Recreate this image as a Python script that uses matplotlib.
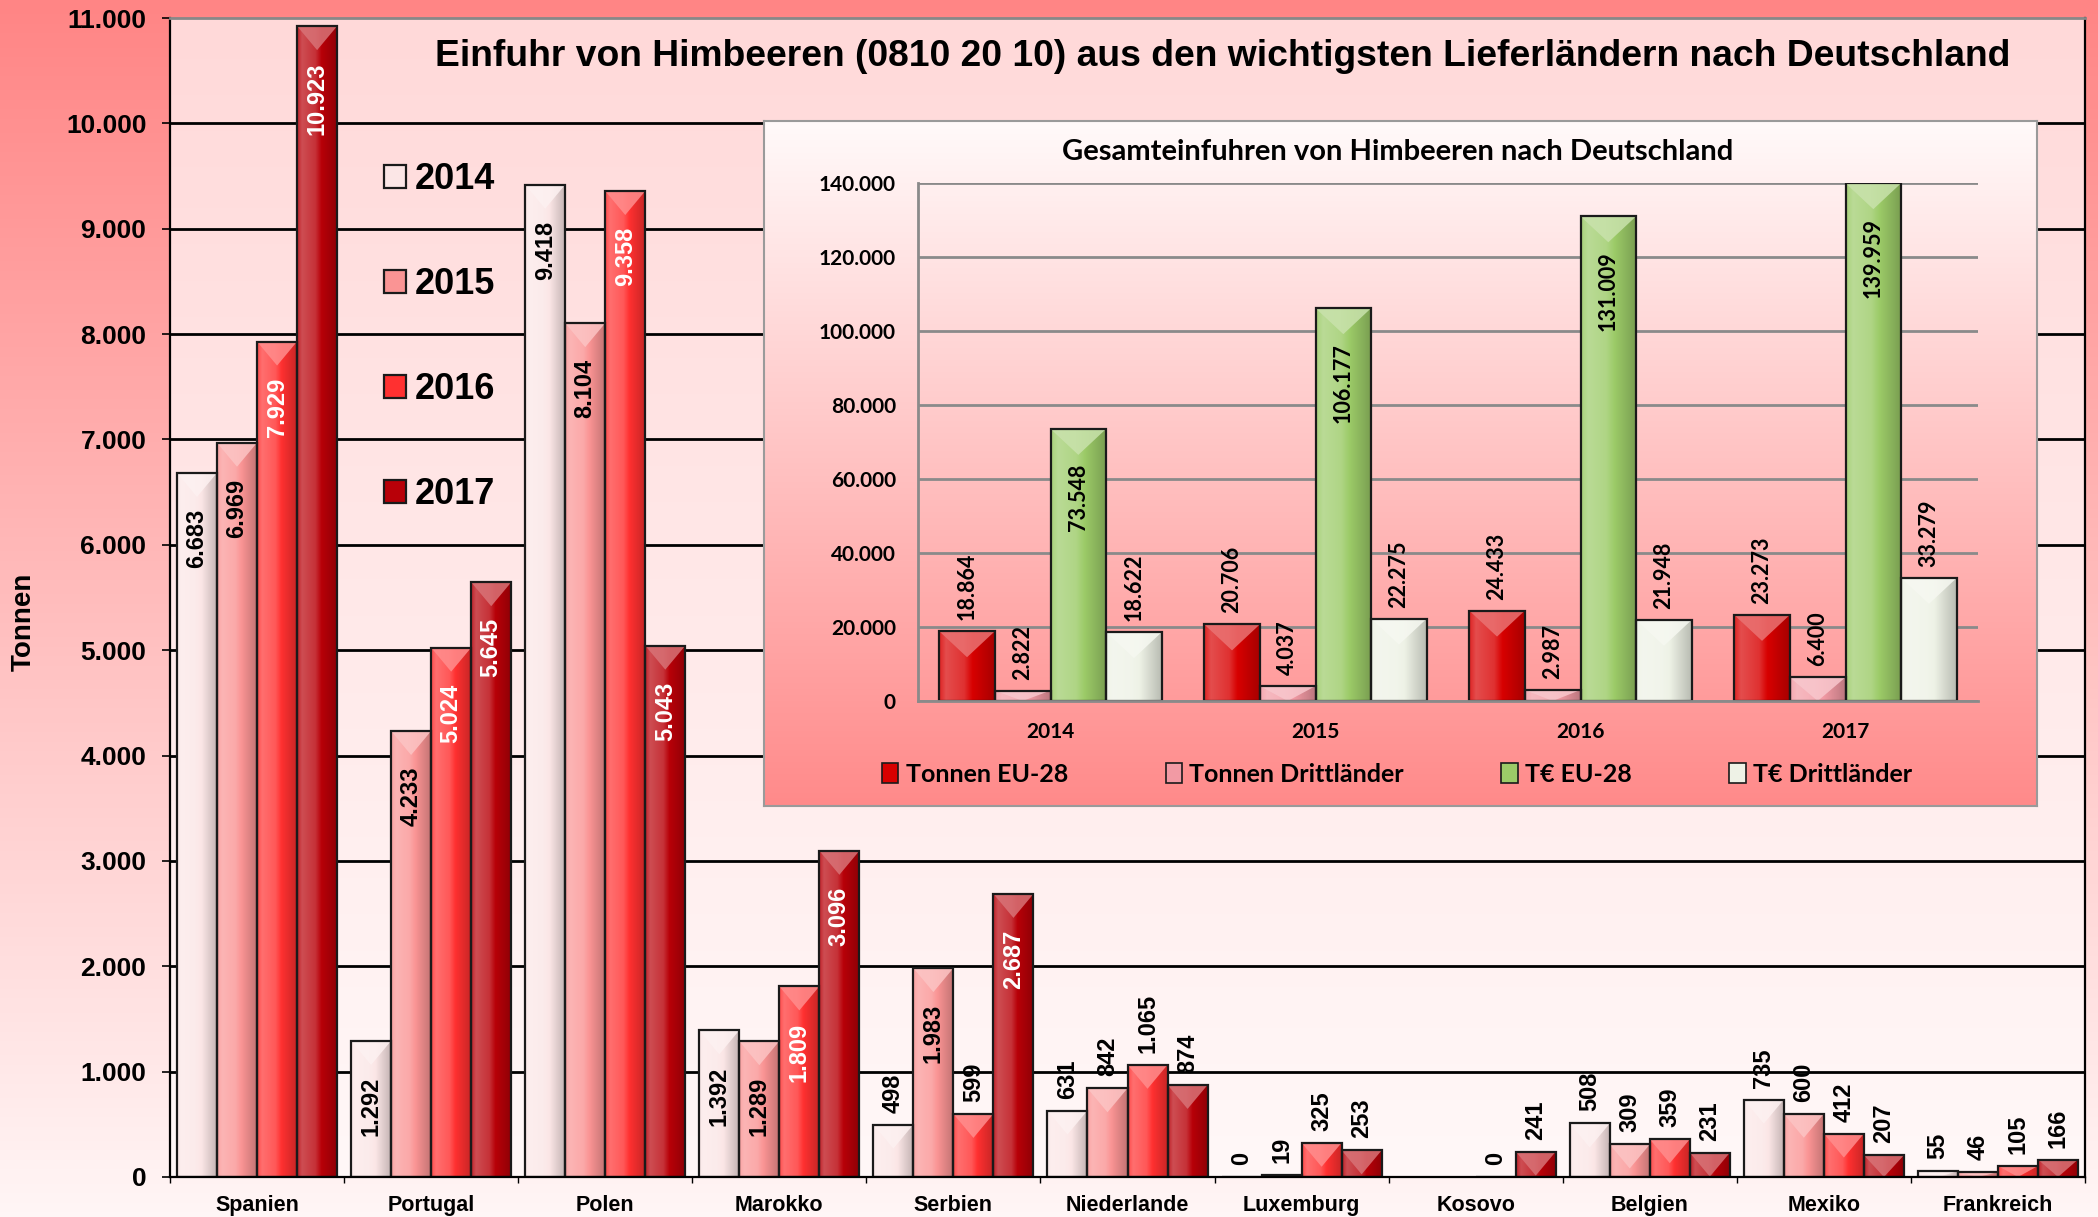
import numpy as np
import matplotlib
matplotlib.use('Agg')
import matplotlib.pyplot as plt
from matplotlib.colors import to_rgb
from matplotlib.patches import Polygon, Patch
from matplotlib.ticker import FuncFormatter, FixedLocator

plt.rcParams['font.family'] = ['Liberation Sans', 'DejaVu Sans']

# ---------------- data ----------------
countries = ['Spanien', 'Portugal', 'Polen', 'Marokko', 'Serbien', 'Niederlande',
             'Luxemburg', 'Kosovo', 'Belgien', 'Mexiko', 'Frankreich']
years = ['2014', '2015', '2016', '2017']
t2014 = [6683, 1292, 9418, 1392, 498, 631, 0, np.nan, 508, 735, 55]
t2015 = [6969, 4233, 8104, 1289, 1983, 842, 19, np.nan, 309, 600, 46]
t2016 = [7929, 5024, 9358, 1809, 599, 1065, 325, 0, 359, 412, 105]
t2017 = [10923, 5645, 5043, 3096, 2687, 874, 253, 241, 231, 207, 166]

inset_years = ['2014', '2015', '2016', '2017']
tonnen_eu = [18864, 20706, 24433, 23273]
tonnen_dritt = [2822, 4037, 2987, 6400]
teur_eu = [73548, 106177, 131009, 139959]
teur_dritt = [18622, 22275, 21948, 33279]
inset_labels = ['Tonnen EU-28', 'Tonnen Drittländer', 'T€ EU-28', 'T€ Drittländer']

title = 'Einfuhr von Himbeeren (0810 20 10) aus den wichtigsten Lieferländern nach Deutschland'
inset_title = 'Gesamteinfuhren von Himbeeren nach Deutschland'

# ---------------- helpers ----------------
W, H = 2098, 1217


def fmt(v, pos=None):
    return f"{int(round(v)):,}".replace(',', '.')


def vgrad(top, bottom, n=256):
    t = np.linspace(0, 1, n)[:, None, None]
    a = np.array(to_rgb(top))[None, None, :]
    b = np.array(to_rgb(bottom))[None, None, :]
    return a * (1 - t) + b * t


def shade(ax, rect, base, tri_units):
    x, y, w, h = rect.get_x(), rect.get_y(), rect.get_width(), rect.get_height()
    if not np.isfinite(h) or h <= 0:
        return
    c = np.array(to_rgb(base))
    light = c + (1 - c) * 0.55
    dark = c * 0.72
    s = np.linspace(0, 1, 64)
    f = np.interp(s, [0, 0.12, 0.45, 0.6, 1.0], [0.25, 0.55, 0.35, 0.0, -0.8])
    cols = np.where(f[:, None] >= 0,
                    c + (light - c) * f[:, None],
                    c + (c - dark) * f[:, None])
    cols = np.clip(cols, 0, 1)
    ax.imshow(cols[None, :, :], extent=(x, x + w, y, y + h), aspect='auto',
              zorder=2.1, clip_path=rect, interpolation='bilinear')
    d = min(tri_units, h)
    tri = Polygon([(x, y + h), (x + w, y + h), (x + w / 2, y + h - d)],
                  closed=True, facecolor=np.clip(c + (1 - c) * 0.45, 0, 1),
                  edgecolor='none', alpha=0.85, zorder=2.2)
    ax.add_patch(tri)


# ---------------- figure ----------------
fig = plt.figure(figsize=(W / 100, H / 100), dpi=100)

bg = fig.add_axes([0, 0, 1, 1], zorder=-10)
bg.imshow(vgrad('#FF8585', '#FFF6F6'), aspect='auto', extent=[0, 1, 0, 1])
bg.set_axis_off()

# main axes
ax = fig.add_axes([170 / W, 1 - 1177 / H, (2085 - 170) / W, (1177 - 18) / H])
ax.set_facecolor('none')
ax.imshow(vgrad('#FFD9D9', '#FFF8F8'), extent=[0, 1, 0, 1], transform=ax.transAxes,
          aspect='auto', zorder=0.1)

series = [t2014, t2015, t2016, t2017]
colors = ['#FBE6E6', '#FA9494', '#FF3030', '#B80008']
bw = 0.23
offs = [(-1.5 + k) * bw for k in range(4)]
xs = np.arange(len(countries))
upp = 11000 / 1159.0
handles = []
for si, vals in enumerate(series):
    vals = np.array(vals, dtype=float)
    bars = ax.bar(xs + offs[si], vals, width=bw, color=colors[si], edgecolor='none', zorder=2)
    ax.bar(xs + offs[si], vals, width=bw, fill=False, edgecolor='#1A1A1A', linewidth=1.6, zorder=2.3)
    for r in bars:
        shade(ax, r, colors[si], 24 * upp)
    handles.append(Patch(facecolor=colors[si], edgecolor='#1A1A1A', linewidth=1.6))
    for i, v in enumerate(vals):
        if np.isnan(v):
            continue
        x = xs[i] + offs[si]
        if v >= 1200:
            ax.text(x, v - 36 * upp, fmt(v), rotation=90, ha='center', va='top',
                    color='black' if si < 2 else 'white', fontsize=17, fontweight='bold', zorder=5)
        else:
            ax.text(x, v + 12 * upp, fmt(v), rotation=90, ha='center', va='bottom',
                    color='black', fontsize=17, fontweight='bold', zorder=5)

ax.set_xlim(-0.5, len(countries) - 0.5)
ax.set_ylim(0, 11000)
ax.yaxis.set_major_locator(FixedLocator(np.arange(0, 11001, 1000)))
ax.yaxis.set_major_formatter(FuncFormatter(fmt))
ax.set_axisbelow(True)
ax.yaxis.grid(True, color='black', linewidth=2)
ax.get_ygridlines()[-1].set_visible(False)
ax.get_ygridlines()[0].set_visible(False)
ax.set_xticks(xs)
ax.set_xticklabels(countries, fontsize=15.5, fontweight='bold')
ax.set_xticks(np.arange(-0.5, len(countries)), minor=True)
ax.tick_params(axis='x', which='major', length=0, pad=13)
ax.tick_params(axis='x', which='minor', length=4.5, width=1, direction='out')
ax.tick_params(axis='y', length=6, width=1.2, pad=11, labelsize=19)
for lab in ax.get_yticklabels():
    lab.set_fontweight('bold')
for side in ['left', 'right', 'bottom']:
    ax.spines[side].set_color('black')
    ax.spines[side].set_linewidth(1.6)
ax.spines['top'].set_color('#888888')
ax.spines['top'].set_linewidth(2)

ax.legend(handles, years, loc='upper left', bbox_to_anchor=(384 / W, 1 - 162 / H),
          bbox_transform=fig.transFigure, frameon=False,
          prop=dict(family='Liberation Sans', weight='bold', size=26),
          handlelength=0.6, handleheight=0.6, handletextpad=0.25, labelspacing=1.94,
          borderpad=0, borderaxespad=0)

fig.text(1223 / W, 1 - 56 / H, title, ha='center', va='center', fontsize=26.8, fontweight='bold')
fig.text(24 / W, 1 - 622 / H, 'Tonnen', ha='center', va='center', rotation=90,
         fontsize=20, fontweight='bold')

# ---------------- inset ----------------
pan = fig.add_axes([764 / W, 1 - 806 / H, 1273 / W, 685 / H], zorder=5)
pan.imshow(vgrad('#FFFAFA', '#FF8A8A'), aspect='auto', extent=[0, 1, 0, 1])
pan.set_xticks([])
pan.set_yticks([])
for sp in pan.spines.values():
    sp.set_color('#9A9A9A')
    sp.set_linewidth(1.5)

iax = fig.add_axes([918 / W, 1 - 701 / H, 1060 / W, 518 / H], zorder=6)
iax.set_facecolor('none')
iseries = [tonnen_eu, tonnen_dritt, teur_eu, teur_dritt]
icolors = ['#D80000', '#F29AA4', '#9CCB68', '#EEF2E6']
ibw = 0.21
ioffs = [(-1.5 + k) * ibw for k in range(4)]
ixs = np.arange(len(inset_years))
iupp = 140000 / 518.0
ihandles = []
lab_font = dict(family=['Lato', 'DejaVu Sans'], weight='bold')
for si, vals in enumerate(iseries):
    vals = np.array(vals, dtype=float)
    bars = iax.bar(ixs + ioffs[si], vals, width=ibw, color=icolors[si], edgecolor='none', zorder=2)
    iax.bar(ixs + ioffs[si], vals, width=ibw, fill=False, edgecolor='#1A1A1A', linewidth=1.6, zorder=2.3)
    for r in bars:
        shade(iax, r, icolors[si], 26 * iupp)
    ihandles.append(Patch(facecolor=icolors[si], edgecolor='#1A1A1A', linewidth=1.2))
    for i, v in enumerate(vals):
        x = ixs[i] + ioffs[si]
        if si == 2:
            iax.text(x, v - 35 * iupp, fmt(v), rotation=90, ha='center', va='top',
                     color='black', fontsize=15.5, zorder=5, **lab_font)
        else:
            iax.text(x, v + 11 * iupp, fmt(v), rotation=90, ha='center', va='bottom',
                     color='black', fontsize=15.5, zorder=5, **lab_font)

iax.set_xlim(-0.5, len(inset_years) - 0.5)
iax.set_ylim(0, 140000)
iax.yaxis.set_major_locator(FixedLocator(np.arange(0, 140001, 20000)))
iax.yaxis.set_major_formatter(FuncFormatter(fmt))
iax.set_axisbelow(True)
iax.yaxis.grid(True, color='#8A8A8A', linewidth=2)
iax.set_xticks(ixs)
iax.set_xticklabels(inset_years)
iax.tick_params(axis='x', length=0, pad=15, labelsize=15)
iax.tick_params(axis='y', length=0, pad=16, labelsize=15)
for lab in iax.get_xticklabels() + iax.get_yticklabels():
    lab.set_fontfamily(['Lato', 'DejaVu Sans'])
    lab.set_fontweight('bold')
for side in ['top', 'right']:
    iax.spines[side].set_visible(False)
for side in ['left', 'bottom']:
    iax.spines[side].set_color('#8A8A8A')
    iax.spines[side].set_linewidth(2)

iax.text(1398 / W, 1 - 152 / H, inset_title, transform=fig.transFigure, ha='center', va='center',
         fontsize=21, **lab_font)
iax.legend(ihandles, inset_labels, ncol=4, loc='center left', bbox_to_anchor=(882 / W, 1 - 774 / H),
           bbox_transform=fig.transFigure, frameon=False,
           prop=dict(family=['Lato', 'DejaVu Sans'], weight='bold', size=18),
           handlelength=0.65, handleheight=0.9, handletextpad=0.3, columnspacing=3.9,
           borderpad=0, borderaxespad=0)

fig.savefig('out.png', dpi=100)
